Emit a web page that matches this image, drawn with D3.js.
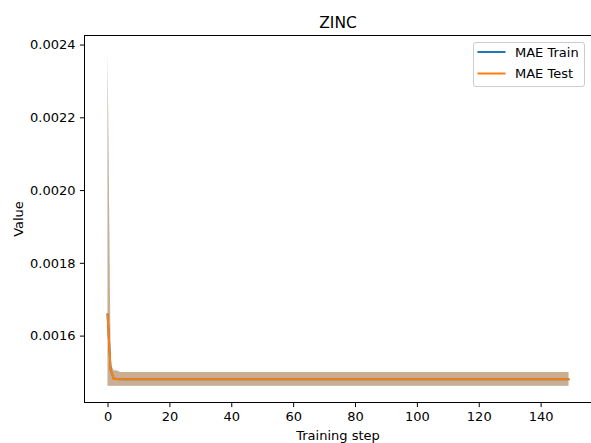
<!DOCTYPE html>
<html><head><meta charset="utf-8">
<script src="https://cdn.jsdelivr.net/npm/d3@7"></script>
<style>
body{margin:0;background:#fff;}
svg text{font-family:"DejaVu Sans",sans-serif;fill:#000;}
</style></head>
<body><svg id="c" width="591" height="443"></svg>
<script>
const steps = [
0,1,2,3,4,5,6,7,8,9,10,11,12,13,14,15,16,17,18,19,
20,21,22,23,24,25,26,27,28,29,30,31,32,33,34,35,36,37,38,39,
40,41,42,43,44,45,46,47,48,49,50,51,52,53,54,55,56,57,58,59,
60,61,62,63,64,65,66,67,68,69,70,71,72,73,74,75,76,77,78,79,
80,81,82,83,84,85,86,87,88,89,90,91,92,93,94,95,96,97,98,99,
100,101,102,103,104,105,106,107,108,109,110,111,112,113,114,115,116,117,118,119,
120,121,122,123,124,125,126,127,128,129,130,131,132,133,134,135,136,137,138,139,
140,141,142,143,144,145,146,147,148,149];

const trainMean = [0.001658,0.001505,0.001482,0.001481,
0.00148,0.00148,0.00148,0.00148,0.00148,0.00148,0.00148,0.00148,0.00148,0.00148,
0.00148,0.00148,0.00148,0.00148,0.00148,0.00148,0.00148,0.00148,0.00148,0.00148,
0.00148,0.00148,0.00148,0.00148,0.00148,0.00148,0.00148,0.00148,0.00148,0.00148,
0.00148,0.00148,0.00148,0.00148,0.00148,0.00148,0.00148,0.00148,0.00148,0.00148,
0.00148,0.00148,0.00148,0.00148,0.00148,0.00148,0.00148,0.00148,0.00148,0.00148,
0.00148,0.00148,0.00148,0.00148,0.00148,0.00148,0.00148,0.00148,0.00148,0.00148,
0.00148,0.00148,0.00148,0.00148,0.00148,0.00148,0.00148,0.00148,0.00148,0.00148,
0.00148,0.00148,0.00148,0.00148,0.00148,0.00148,0.00148,0.00148,0.00148,0.00148,
0.00148,0.00148,0.00148,0.00148,0.00148,0.00148,0.00148,0.00148,0.00148,0.00148,
0.00148,0.00148,0.00148,0.00148,0.00148,0.00148,0.00148,0.00148,0.00148,0.00148,
0.00148,0.00148,0.00148,0.00148,0.00148,0.00148,0.00148,0.00148,0.00148,0.00148,
0.00148,0.00148,0.00148,0.00148,0.00148,0.00148,0.00148,0.00148,0.00148,0.00148,
0.00148,0.00148,0.00148,0.00148,0.00148,0.00148,0.00148,0.00148,0.00148,0.00148,
0.00148,0.00148,0.00148,0.00148,0.00148,0.00148,0.00148,0.00148,0.00148,0.00148,
0.00148,0.00148,0.00148,0.00148,0.00148,0.00148];

const testMean = [0.001658,0.001505,0.001482,0.001481,
0.00148,0.00148,0.00148,0.00148,0.00148,0.00148,0.00148,0.00148,0.00148,0.00148,
0.00148,0.00148,0.00148,0.00148,0.00148,0.00148,0.00148,0.00148,0.00148,0.00148,
0.00148,0.00148,0.00148,0.00148,0.00148,0.00148,0.00148,0.00148,0.00148,0.00148,
0.00148,0.00148,0.00148,0.00148,0.00148,0.00148,0.00148,0.00148,0.00148,0.00148,
0.00148,0.00148,0.00148,0.00148,0.00148,0.00148,0.00148,0.00148,0.00148,0.00148,
0.00148,0.00148,0.00148,0.00148,0.00148,0.00148,0.00148,0.00148,0.00148,0.00148,
0.00148,0.00148,0.00148,0.00148,0.00148,0.00148,0.00148,0.00148,0.00148,0.00148,
0.00148,0.00148,0.00148,0.00148,0.00148,0.00148,0.00148,0.00148,0.00148,0.00148,
0.00148,0.00148,0.00148,0.00148,0.00148,0.00148,0.00148,0.00148,0.00148,0.00148,
0.00148,0.00148,0.00148,0.00148,0.00148,0.00148,0.00148,0.00148,0.00148,0.00148,
0.00148,0.00148,0.00148,0.00148,0.00148,0.00148,0.00148,0.00148,0.00148,0.00148,
0.00148,0.00148,0.00148,0.00148,0.00148,0.00148,0.00148,0.00148,0.00148,0.00148,
0.00148,0.00148,0.00148,0.00148,0.00148,0.00148,0.00148,0.00148,0.00148,0.00148,
0.00148,0.00148,0.00148,0.00148,0.00148,0.00148,0.00148,0.00148,0.00148,0.00148,
0.00148,0.00148,0.00148,0.00148,0.00148,0.00148];

const bandHigh = [0.002379,0.00152,0.001505,0.001504,
0.0015,0.0015,0.0015,0.0015,0.0015,0.0015,0.0015,0.0015,0.0015,0.0015,
0.0015,0.0015,0.0015,0.0015,0.0015,0.0015,0.0015,0.0015,0.0015,0.0015,
0.0015,0.0015,0.0015,0.0015,0.0015,0.0015,0.0015,0.0015,0.0015,0.0015,
0.0015,0.0015,0.0015,0.0015,0.0015,0.0015,0.0015,0.0015,0.0015,0.0015,
0.0015,0.0015,0.0015,0.0015,0.0015,0.0015,0.0015,0.0015,0.0015,0.0015,
0.0015,0.0015,0.0015,0.0015,0.0015,0.0015,0.0015,0.0015,0.0015,0.0015,
0.0015,0.0015,0.0015,0.0015,0.0015,0.0015,0.0015,0.0015,0.0015,0.0015,
0.0015,0.0015,0.0015,0.0015,0.0015,0.0015,0.0015,0.0015,0.0015,0.0015,
0.0015,0.0015,0.0015,0.0015,0.0015,0.0015,0.0015,0.0015,0.0015,0.0015,
0.0015,0.0015,0.0015,0.0015,0.0015,0.0015,0.0015,0.0015,0.0015,0.0015,
0.0015,0.0015,0.0015,0.0015,0.0015,0.0015,0.0015,0.0015,0.0015,0.0015,
0.0015,0.0015,0.0015,0.0015,0.0015,0.0015,0.0015,0.0015,0.0015,0.0015,
0.0015,0.0015,0.0015,0.0015,0.0015,0.0015,0.0015,0.0015,0.0015,0.0015,
0.0015,0.0015,0.0015,0.0015,0.0015,0.0015,0.0015,0.0015,0.0015,0.0015,
0.0015,0.0015,0.0015,0.0015,0.0015,0.0015];

const bandLow = [
0.001462,0.001462,0.001462,0.001462,0.001462,0.001462,0.001462,0.001462,0.001462,0.001462,
0.001462,0.001462,0.001462,0.001462,0.001462,0.001462,0.001462,0.001462,0.001462,0.001462,
0.001462,0.001462,0.001462,0.001462,0.001462,0.001462,0.001462,0.001462,0.001462,0.001462,
0.001462,0.001462,0.001462,0.001462,0.001462,0.001462,0.001462,0.001462,0.001462,0.001462,
0.001462,0.001462,0.001462,0.001462,0.001462,0.001462,0.001462,0.001462,0.001462,0.001462,
0.001462,0.001462,0.001462,0.001462,0.001462,0.001462,0.001462,0.001462,0.001462,0.001462,
0.001462,0.001462,0.001462,0.001462,0.001462,0.001462,0.001462,0.001462,0.001462,0.001462,
0.001462,0.001462,0.001462,0.001462,0.001462,0.001462,0.001462,0.001462,0.001462,0.001462,
0.001462,0.001462,0.001462,0.001462,0.001462,0.001462,0.001462,0.001462,0.001462,0.001462,
0.001462,0.001462,0.001462,0.001462,0.001462,0.001462,0.001462,0.001462,0.001462,0.001462,
0.001462,0.001462,0.001462,0.001462,0.001462,0.001462,0.001462,0.001462,0.001462,0.001462,
0.001462,0.001462,0.001462,0.001462,0.001462,0.001462,0.001462,0.001462,0.001462,0.001462,
0.001462,0.001462,0.001462,0.001462,0.001462,0.001462,0.001462,0.001462,0.001462,0.001462,
0.001462,0.001462,0.001462,0.001462,0.001462,0.001462,0.001462,0.001462,0.001462,0.001462,
0.001462,0.001462,0.001462,0.001462,0.001462,0.001462,0.001462,0.001462,0.001462,0.001462];

const xTicks = [0,20,40,60,80,100,120,140];
const yTicks = [0.0016,0.0018,0.0020,0.0022,0.0024];
const seriesNames = ["MAE Train","MAE Test"];
const colors = ["#1f77b4","#ff7f0e"];

const svg = d3.select("#c");
const L=84.5, R=591.5, T=35.5, B=402.5;

const xe = d3.extent(steps), xp=(xe[1]-xe[0])*0.05;
const x = d3.scaleLinear().domain([xe[0]-xp, xe[1]+xp]).range([L,R]);
const ylo = d3.min(bandLow), yhi = d3.max(bandHigh), yp=(yhi-ylo)*0.05;
const y = d3.scaleLinear().domain([ylo-yp, yhi+yp]).range([B,T]);

svg.append("defs").append("clipPath").attr("id","clip")
  .append("rect").attr("x",L).attr("y",T).attr("width",R-L).attr("height",B-T);

const plot = svg.append("g").attr("clip-path","url(#clip)");
const area = d3.area().x((d,i)=>x(steps[i])).y0((d,i)=>y(bandLow[i])).y1((d,i)=>y(bandHigh[i]));
const means = [trainMean, testMean];
means.forEach((m,k)=>{
  plot.append("path").datum(m).attr("d",area).attr("fill",colors[k]).attr("fill-opacity",0.38);
});
const line = d3.line().x((d,i)=>x(steps[i])).y(d=>y(d));
means.forEach((m,k)=>{
  plot.append("path").datum(m).attr("d",line).attr("fill","none")
    .attr("stroke",colors[k]).attr("stroke-width",2).attr("stroke-linejoin","round").attr("stroke-linecap","square");
});

// axes
const xa = svg.append("g").attr("transform",`translate(0,${B})`)
  .call(d3.axisBottom(x).tickValues(xTicks).tickSize(4.6).tickPadding(4.4).tickFormat(d3.format("d")));
const ya = svg.append("g").attr("transform",`translate(${L},0)`)
  .call(d3.axisLeft(y).tickValues(yTicks).tickSize(4.6).tickPadding(4.4).tickFormat(d3.format(".4f")));
[xa,ya].forEach(a=>{
  a.select(".domain").remove();
  a.selectAll("line").attr("stroke","#000").attr("stroke-width",1);
  a.selectAll("text").attr("font-size","13px").attr("font-family","DejaVu Sans").attr("fill","#000");
});

svg.append("rect").attr("x",L).attr("y",T).attr("width",R-L).attr("height",B-T)
  .attr("fill","none").attr("stroke","#000").attr("stroke-width",1);

// title & labels
svg.append("text").attr("x",(L+R)/2).attr("y",27.5).attr("text-anchor","middle")
  .attr("font-size","15.5px").text("ZINC");
svg.append("text").attr("x",(L+R)/2).attr("y",439.5).attr("text-anchor","middle")
  .attr("font-size","13px").text("Training step");
svg.append("text").attr("transform",`translate(22.5,${(T+B)/2}) rotate(-90)`).attr("text-anchor","middle")
  .attr("font-size","13px").text("Value");

// legend
const lg = svg.append("g");
lg.append("rect").attr("x",473.5).attr("y",42.5).attr("width",111).attr("height",44).attr("rx",2.5)
  .attr("fill","#fff").attr("fill-opacity",0.8).attr("stroke","#cccccc").attr("stroke-width",1);
seriesNames.forEach((n,i)=>{
  const yy = 52 + i*21.5;
  lg.append("line").attr("x1",477.5).attr("x2",505.5).attr("y1",yy).attr("y2",yy)
    .attr("stroke",colors[i]).attr("stroke-width",2);
  lg.append("text").attr("x",515).attr("y",yy+4.7).attr("font-size","13px").text(n);
});
</script></body></html>
